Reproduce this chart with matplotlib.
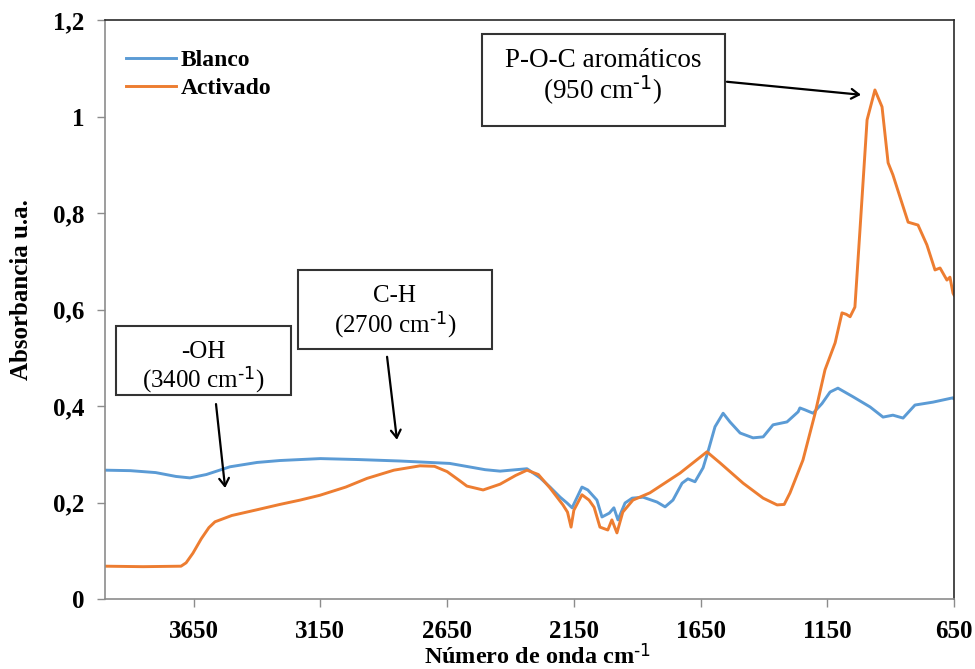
import matplotlib
matplotlib.use("Agg")
import matplotlib.pyplot as plt
from matplotlib.patches import Rectangle
from matplotlib.ticker import FuncFormatter

# Blanco (blue)
blanco_wn = [4000, 3900, 3800, 3720, 3665, 3600, 3507, 3400, 3310, 3150, 3000, 2836,
             2640, 2500, 2441, 2335, 2283, 2244, 2204, 2177, 2157, 2118, 2095, 2059,
             2039, 2010, 1992, 1976, 1948, 1920, 1877, 1822, 1790, 1759, 1723, 1700,
             1672, 1640, 1621, 1593, 1561, 1534, 1494, 1443, 1403, 1364, 1309, 1265,
             1258, 1238, 1206, 1171, 1139, 1108, 1048, 981, 930, 891, 851, 804, 733, 654, 650]
blanco_abs = [0.267, 0.266, 0.262, 0.254, 0.251, 0.258, 0.274, 0.283, 0.287, 0.291, 0.289, 0.286,
              0.281, 0.268, 0.265, 0.270, 0.251, 0.232, 0.211, 0.199, 0.189, 0.232, 0.226, 0.205,
              0.170, 0.178, 0.189, 0.164, 0.199, 0.209, 0.211, 0.201, 0.191, 0.205, 0.240, 0.249,
              0.243, 0.272, 0.305, 0.357, 0.385, 0.367, 0.344, 0.334, 0.336, 0.361, 0.367, 0.388,
              0.396, 0.392, 0.385, 0.405, 0.429, 0.437, 0.419, 0.398, 0.377, 0.381, 0.375, 0.402, 0.408, 0.417, 0.415]

# Activado (orange)
activado_wn = [4000, 3850, 3700, 3680, 3653, 3620, 3590, 3566, 3500, 3400, 3310, 3230,
               3152, 3050, 2966, 2860, 2757, 2700, 2650, 2600, 2572, 2508, 2441, 2380,
               2335, 2290, 2244, 2193, 2175, 2161, 2150, 2118, 2090, 2070, 2047, 2016,
               2000, 1980, 1957, 1917, 1850, 1731, 1625, 1573, 1482, 1403, 1348, 1320,
               1297, 1246, 1198, 1159, 1119, 1092, 1075, 1060, 1041, 1021, 993, 962,
               934, 910, 891, 863, 831, 792, 757, 725, 705, 678, 666, 654, 650]
activado_abs = [0.068, 0.067, 0.068, 0.075, 0.095, 0.125, 0.148, 0.160, 0.173, 0.185, 0.196, 0.205,
                0.215, 0.232, 0.250, 0.267, 0.276, 0.275, 0.264, 0.245, 0.234, 0.226, 0.238, 0.256,
                0.267, 0.258, 0.230, 0.195, 0.180, 0.149, 0.184, 0.216, 0.205, 0.190, 0.149, 0.143,
                0.164, 0.137, 0.180, 0.205, 0.220, 0.261, 0.305, 0.282, 0.240, 0.209, 0.195, 0.196,
                0.220, 0.288, 0.385, 0.475, 0.531, 0.593, 0.590, 0.585, 0.605, 0.765, 0.993, 1.055,
                1.020, 0.904, 0.879, 0.833, 0.781, 0.775, 0.734, 0.682, 0.686, 0.661, 0.667, 0.634, 0.630]

x_ticks = [3650, 3150, 2650, 2150, 1650, 1150, 650]
y_ticks = [0, 0.2, 0.4, 0.6, 0.8, 1.0, 1.2]

plt.rcParams["font.family"] = ["Liberation Serif", "DejaVu Serif"]
plt.rcParams["mathtext.default"] = "regular"

fig = plt.figure(figsize=(9.75, 6.69), dpi=100)
ax = fig.add_axes([105 / 975, 70 / 669, 849 / 975, 579 / 669])

ax.plot(blanco_wn, blanco_abs, color="#5B9BD5", lw=2.1, label="Blanco")
ax.plot(activado_wn, activado_abs, color="#ED7D31", lw=2.1, label="Activado")

ax.set_xlim(4000, 650)
ax.set_ylim(0, 1.2)
ax.set_xticks(x_ticks)
ax.set_yticks(y_ticks)
ax.yaxis.set_major_formatter(FuncFormatter(lambda v, p: ("%g" % round(v, 1)).replace(".", ",")))

for side in ["left", "bottom"]:
    ax.spines[side].set_color("#8c8c8c")
    ax.spines[side].set_linewidth(1.2)
for side in ["top", "right"]:
    ax.spines[side].set_color("#2a2a2a")
    ax.spines[side].set_linewidth(1.2)

ax.tick_params(axis="both", direction="out", length=6, width=1, color="#8c8c8c",
               labelsize=18, pad=9)
for lbl in ax.get_xticklabels() + ax.get_yticklabels():
    lbl.set_fontweight("bold")

sup = r"$^{\text{-1}}$"
ax.set_xlabel("Número de onda cm" + sup, fontsize=17.5, fontweight="bold")
ax.xaxis.set_label_coords(0.509, -0.078)
ax.set_ylabel("Absorbancia u.a.", fontsize=18, fontweight="bold")
ax.yaxis.set_label_coords(-0.085, 0.534)

leg = ax.legend(loc="upper left", bbox_to_anchor=(0.0, 0.985), frameon=False,
                prop={"weight": "bold", "size": 17}, handlelength=2.1,
                handletextpad=0.2, labelspacing=0.25, borderaxespad=0.5)

# annotation boxes (data coords)
boxes = [
    (2512, 0.981, 1553, 1.171),
    (3957, 0.423, 3266, 0.566),
    (3238, 0.518, 2473, 0.682),
]
for x0, y0, x1, y1 in boxes:
    ax.add_patch(Rectangle((x1, y0), x0 - x1, y1 - y0, facecolor="white",
                           edgecolor="#333333", lw=1.5, zorder=3))

ax.text(2035, 1.117, "P-O-C aromáticos", fontsize=19.5, ha="center", va="center", zorder=4)
ax.text(2035, 1.055, "(950 cm" + sup + ")", fontsize=19.5, ha="center", va="center", zorder=4)
ax.text(3613, 0.512, "-OH", fontsize=18, ha="center", va="center", zorder=4)
ax.text(3613, 0.454, "(3400 cm" + sup + ")", fontsize=18, ha="center", va="center", zorder=4)
ax.text(2856, 0.628, "C-H", fontsize=18, ha="center", va="center", zorder=4)
ax.text(2856, 0.568, "(2700 cm" + sup + ")", fontsize=18, ha="center", va="center", zorder=4)

arrows = [
    ((1546, 1.072), (1017, 1.045)),
    ((3562, 0.404), (3526, 0.230)),
    ((2887, 0.502), (2848, 0.330)),
]
for start, end in arrows:
    ax.annotate("", xy=end, xytext=start,
                arrowprops=dict(arrowstyle="->,head_length=0.55,head_width=0.35",
                                color="black", lw=1.6, shrinkA=0, shrinkB=0))

fig.savefig("out.png", dpi=100)
